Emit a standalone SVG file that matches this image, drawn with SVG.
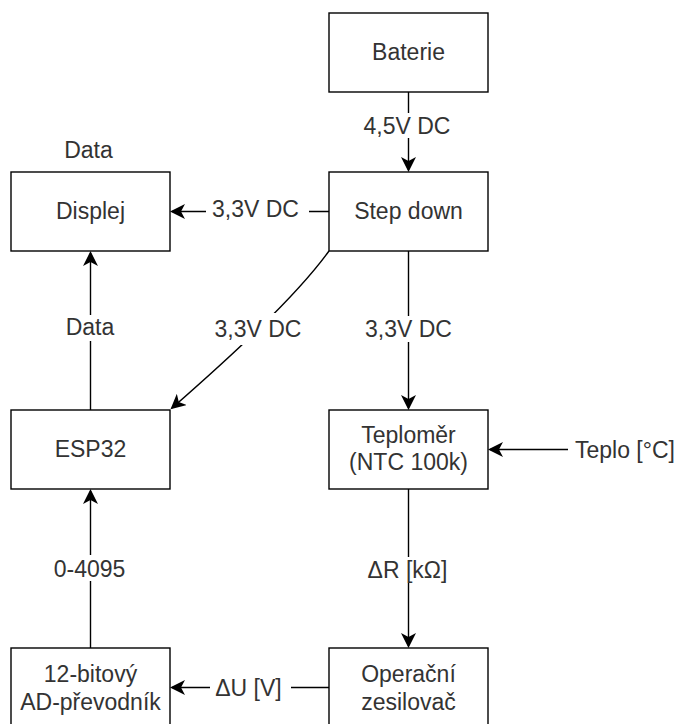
<svg xmlns="http://www.w3.org/2000/svg" width="678" height="724" viewBox="0 0 678 724">
<style>
.box{fill:#fff;stroke:#000;stroke-width:1.4}
.t{font-family:"Liberation Sans",Arial,sans-serif;font-size:23px;fill:#333;text-anchor:middle}
.e{fill:none;stroke:#000;stroke-width:1.4}
.bg{fill:#fff}
</style>
<defs>
<marker id="arr" markerUnits="userSpaceOnUse" viewBox="0 0 15 15" markerWidth="15" markerHeight="15" refX="13" refY="7.5" orient="auto">
<path d="M0,0 L15,7.5 L0,15 L4,7.5 Z" fill="#000"/>
</marker>
</defs>
<rect width="678" height="724" fill="#fff"/>
<g id="connectors">
<path class="e" d="M408.5,92 V170" marker-end="url(#arr)"/>
<path class="e" d="M329,211.5 H172" marker-end="url(#arr)"/>
<path class="e" d="M408.5,251 V408" marker-end="url(#arr)"/>
<path class="e" d="M329,251 C295,298 229,358 172,408" marker-end="url(#arr)"/>
<path class="e" d="M90.5,410 V253" marker-end="url(#arr)"/>
<path class="e" d="M568,449.5 H490" marker-end="url(#arr)"/>
<path class="e" d="M408.5,489 V646" marker-end="url(#arr)"/>
<path class="e" d="M90.5,648 V491" marker-end="url(#arr)"/>
<path class="e" d="M329,687.5 H172" marker-end="url(#arr)"/>
<g id="labels">
<rect class="bg" x="360" y="113" width="95" height="25"/>
<text class="t" x="407" y="134">4,5V DC</text>
<rect class="bg" x="206" y="196" width="103" height="26"/>
<text class="t" x="255.5" y="217">3,3V DC</text>
<rect class="bg" x="210" y="313" width="97" height="32"/>
<text class="t" x="258" y="337">3,3V DC</text>
<rect class="bg" x="360" y="316" width="97" height="26"/>
<text class="t" x="408.5" y="337">3,3V DC</text>
<rect class="bg" x="62" y="315" width="57" height="26"/>
<text class="t" x="90" y="335">Data</text>
<rect class="bg" x="49" y="555" width="82" height="26"/>
<text class="t" x="89.5" y="576.5">0-4095</text>
<rect class="bg" x="363" y="557" width="90" height="26"/>
<text class="t" x="407.5" y="578">ΔR [kΩ]</text>
<rect class="bg" x="210" y="675" width="81" height="26"/>
<text class="t" x="248.5" y="696">ΔU [V]</text>
<text class="t" x="88.5" y="158">Data</text>
<text class="t" x="575" y="458" style="text-anchor:start">Teplo [°C]</text>
</g>
</g>
<g id="baterie"><rect class="box" x="329" y="13" width="159" height="79"/><text class="t" x="408.5" y="60">Baterie</text></g>
<g id="stepdown"><rect class="box" x="329" y="172" width="159" height="79"/><text class="t" x="408.5" y="219">Step down</text></g>
<g id="displej"><rect class="box" x="11" y="172" width="159" height="79"/><text class="t" x="90.5" y="219">Displej</text></g>
<g id="esp32"><rect class="box" x="11" y="410" width="159" height="79"/><text class="t" x="90.5" y="457">ESP32</text></g>
<g id="teplomer"><rect class="box" x="329" y="410" width="159" height="79"/><text class="t" x="408.5" y="443">Teploměr</text><text class="t" x="408.5" y="470">(NTC 100k)</text></g>
<g id="adc"><rect class="box" x="11" y="648" width="159" height="79"/><text class="t" x="90.5" y="682">12-bitový</text><text class="t" x="90.5" y="710">AD-převodník</text></g>
<g id="opamp"><rect class="box" x="329" y="648" width="159" height="79"/><text class="t" x="408.5" y="682">Operační</text><text class="t" x="408.5" y="710">zesilovač</text></g>
</svg>
